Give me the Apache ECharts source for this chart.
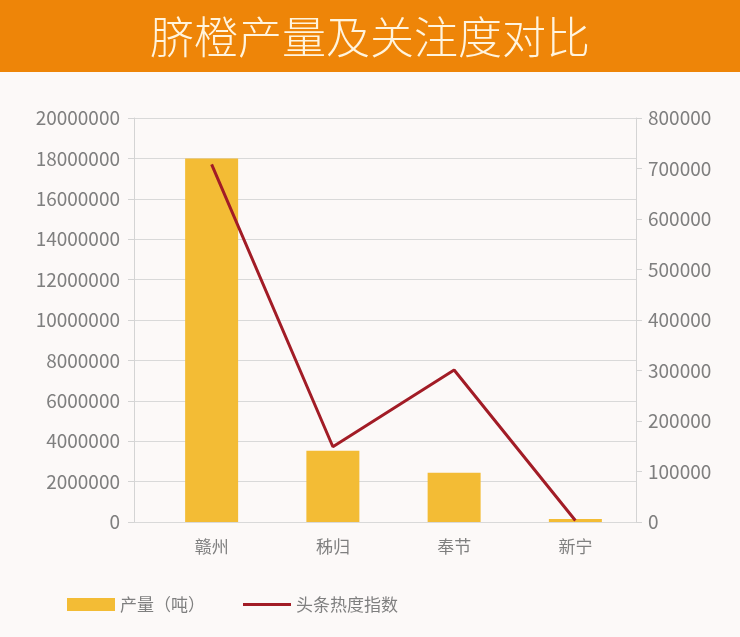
<!DOCTYPE html>
<html>
<head>
<meta charset="utf-8">
<script src="https://cdn.jsdelivr.net/npm/echarts@6/dist/echarts.min.js"></script>
<style>
html,body{margin:0;padding:0;background:#FCF9F8;}
#c{width:740px;height:637px;}
</style>
</head>
<body>
<div id="c"></div>
<script>
const titleText = '脐橙产量及关注度对比';
const categories = ['赣州', '秭归', '奉节', '新宁'];
const outputTons = [18000000, 3530000, 2440000, 150000];
const heatIndex = [708000, 149000, 301000, 3000];
const seriesNames = ['产量（吨）', '头条热度指数'];

const chart = echarts.init(document.getElementById('c'));
const gray = '#7F7F7F';
const font = "'Noto Sans CJK SC', 'Noto Sans', sans-serif";
const plain = v => String(v);
chart.setOption({
  backgroundColor: '#FCF9F8',
  textStyle: { fontFamily: font },
  animation: false,
  graphic: [{
    type: 'rect', left: 0, top: 0, z: 0,
    shape: { width: 740, height: 72 },
    style: { fill: '#EE8508' }
  }],
  title: {
    text: titleText, left: 'center', top: 10,
    textStyle: { color: '#FFF4DE', fontSize: 44, fontWeight: 300, fontFamily: font }
  },
  legend: {
    left: 67, top: 596, padding: 0, itemWidth: 48, itemHeight: 13, itemGap: 38,
    textStyle: { color: gray, fontSize: 17, fontFamily: font },
    data: [
      { name: seriesNames[0], icon: 'rect' },
      { name: seriesNames[1], icon: 'path://M0,0L0,0M0,5L48,5L48,8L0,8ZM48,13L48,13',
        itemStyle: { color: '#A21C26' } }
    ]
  },
  grid: [
    { left: 134, right: 104, top: 118, bottom: 115 },
    { left: 151, right: 104, top: 118, bottom: 115 }
  ],
  xAxis: [
    { gridIndex: 0, type: 'value', min: 0, max: 1, show: false },
    { gridIndex: 1, type: 'category', data: categories,
      axisLine: { show: false }, axisTick: { show: false },
      axisLabel: { color: gray, fontSize: 17, margin: 16 } }
  ],
  yAxis: [
    { gridIndex: 0, type: 'value', position: 'left', min: 0, max: 20000000, interval: 2000000,
      axisLine: { show: true, lineStyle: { color: '#D4D4D4' } },
      axisTick: { show: true, length: 6, lineStyle: { color: '#D4D4D4' } },
      axisLabel: { color: gray, fontSize: 19, margin: 14, formatter: plain },
      splitLine: { show: true, lineStyle: { color: '#D9D9D9', width: 1 } } },
    { gridIndex: 0, type: 'value', position: 'right', min: 0, max: 800000, interval: 100000,
      axisLine: { show: true, lineStyle: { color: '#D4D4D4' } },
      axisTick: { show: true, length: 6, lineStyle: { color: '#D4D4D4' } },
      axisLabel: { color: gray, fontSize: 19, margin: 12, formatter: plain },
      splitLine: { show: false } },
    { gridIndex: 1, type: 'value', min: 0, max: 20000000, show: false, splitLine: { show: false } },
    { gridIndex: 1, type: 'value', min: 0, max: 800000, show: false, splitLine: { show: false } }
  ],
  series: [
    { name: seriesNames[0], type: 'bar', xAxisIndex: 1, yAxisIndex: 2,
      data: outputTons, barWidth: 53,
      itemStyle: { color: '#F3BC35' } },
    { name: seriesNames[1], type: 'line', xAxisIndex: 1, yAxisIndex: 3,
      data: heatIndex, symbol: 'none',
      lineStyle: { color: '#A21C26', width: 3 },
      itemStyle: { color: '#A21C26' } }
  ]
});
</script>
</body>
</html>
